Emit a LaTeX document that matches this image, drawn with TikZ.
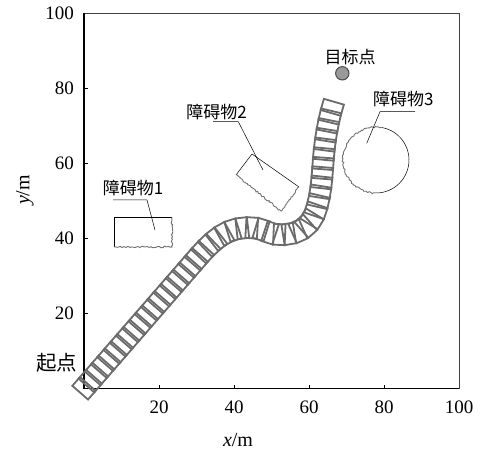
\documentclass[tikz,border=0pt]{standalone}
\usepackage{fontspec}
\setmainfont{Liberation Serif}
\newfontfamily\cjk{Noto Sans CJK SC}
\usetikzlibrary{decorations.markings,decorations.pathmorphing}
\begin{document}
\begin{tikzpicture}[x=1pt,y=1pt,
  axisline/.style={line width=1.1pt,black},
  framethin/.style={line width=0.7pt,black!75},
  ticklab/.style={font=\fontsize{19}{19}\selectfont,inner sep=0pt},
  cjklab/.style={font=\cjk\fontsize{17}{17}\selectfont,inner sep=0pt},
  leader/.style={line width=0.5pt,black},
  smoothedge/.style={line width=0.5pt,black},
  roughedge/.style={line width=0.9pt,black!55,decorate,decoration={random steps,segment length=1.6pt,amplitude=0.8pt}},
  carbox/.style={line width=1.8pt,black!58},
]
\useasboundingbox (0,0) rectangle (487,450);

% frame and axes
\draw[framethin] (84,61.7) rectangle (459,436.7);
\draw[axisline] (84,436.7) -- (84,61.7) -- (459,61.7);
\foreach \v in {20,40,60,80}{
  \draw[line width=0.8pt] (84+3.75*\v,61.7) -- ++(0,3.5);
  \draw[line width=0.8pt] (84,61.7+3.75*\v) -- ++(3.5,0);
}
\foreach \v in {20,40,60,80,100}{
  \node[ticklab] (xl\v) at (84+3.75*\v,43) {\v};
  \node[ticklab,anchor=east] (yl\v) at (74,61.7+3.75*\v) {\v};
}
\node[font=\fontsize{20}{20}\selectfont,inner sep=0pt] (xlab) at (238,10) {\textit{x}/m};
\node[font=\fontsize{20}{20}\selectfont,inner sep=0pt,rotate=90] (ylab) at (25,260) {\textit{y}/m};

% obstacle 1
\coordinate (o1a) at (114,203);
\coordinate (o1b) at (114,233);
\coordinate (o1c) at (172,233);
\coordinate (o1d) at (172,203);
\draw[smoothedge] (o1a) -- (o1b) -- (o1c);
\draw[roughedge] (o1c) -- (o1d) -- (o1a);
\node[cjklab] (t1) at (133,262) {障碍物1};
\coordinate (l1a) at (113,250);
\coordinate (l1b) at (147,250);
\coordinate (l1c) at (155,220);
\draw[leader] (l1a) -- (l1b) -- (l1c);

% obstacle 2
\coordinate (o2a) at (236,275);
\coordinate (o2b) at (252,296);
\coordinate (o2c) at (299,263);
\coordinate (o2d) at (281,239);
\draw[smoothedge] (o2a) -- (o2b) -- (o2c);
\draw[roughedge] (o2c) -- (o2d) -- (o2a);
\node[cjklab] (t2) at (216.7,338.3) {障碍物2};
\coordinate (l2a) at (213,328.3);
\coordinate (l2b) at (238.3,328.3);
\coordinate (l2c) at (263,280);
\draw[leader] (l2a) -- (l2b) -- (l2c);

% obstacle 3
\coordinate (o3) at (376,290);
\draw[smoothedge] (o3) ++(-95:33) arc[start angle=-95,end angle=80,radius=33];
\draw[roughedge] (o3) ++(80:33) arc[start angle=80,end angle=265,radius=33];
\node[cjklab] (t3) at (403.3,350.7) {障碍物3};
\coordinate (l3a) at (415,338.3);
\coordinate (l3b) at (380,338.3);
\coordinate (l3c) at (366.7,306.7);
\draw[leader] (l3a) -- (l3b) -- (l3c);

% target
\node[circle,minimum size=13.4pt,inner sep=0pt,fill=black!40,draw=black!70,line width=1pt] (goal) at (342.3,376.7) {};
\node[cjklab] (tg) at (350,393) {目标点};

% start
\node[font=\cjk\fontsize{20.5}{20.5}\selectfont,inner sep=0pt] (ts) at (56.7,87.3) {起点};

% vehicle footprints along the path
\begin{scope}[shift={(84pt,61.7pt)},x=3.75pt,y=3.75pt]
\coordinate (p0) at (0,0);
\coordinate (p1) at (30,34.5);
\coordinate (p2) at (44,42.8);
\coordinate (p3) at (52.5,41);
\coordinate (p4) at (62,48);
\coordinate (p5) at (64,63);
\coordinate (p6) at (66.8,76.8);
\path[decoration={markings,
   mark=between positions 0 and 1 step 9.5pt with {\draw[carbox] (-5.8pt,-10.4pt) rectangle (5.8pt,10.4pt);}},
   decorate]
  (p0) -- (p1)
  .. controls (35,40.3) and (38.5,42.8) .. (p2)
  .. controls (48,42.8) and (49,41) .. (p3)
  .. controls (57,41) and (60.5,43) .. (p4)
  .. controls (63.5,53) and (63.5,58) .. (p5)
  .. controls (64.5,68) and (65.5,73) .. (p6);
\end{scope}
\end{tikzpicture}
\end{document}
